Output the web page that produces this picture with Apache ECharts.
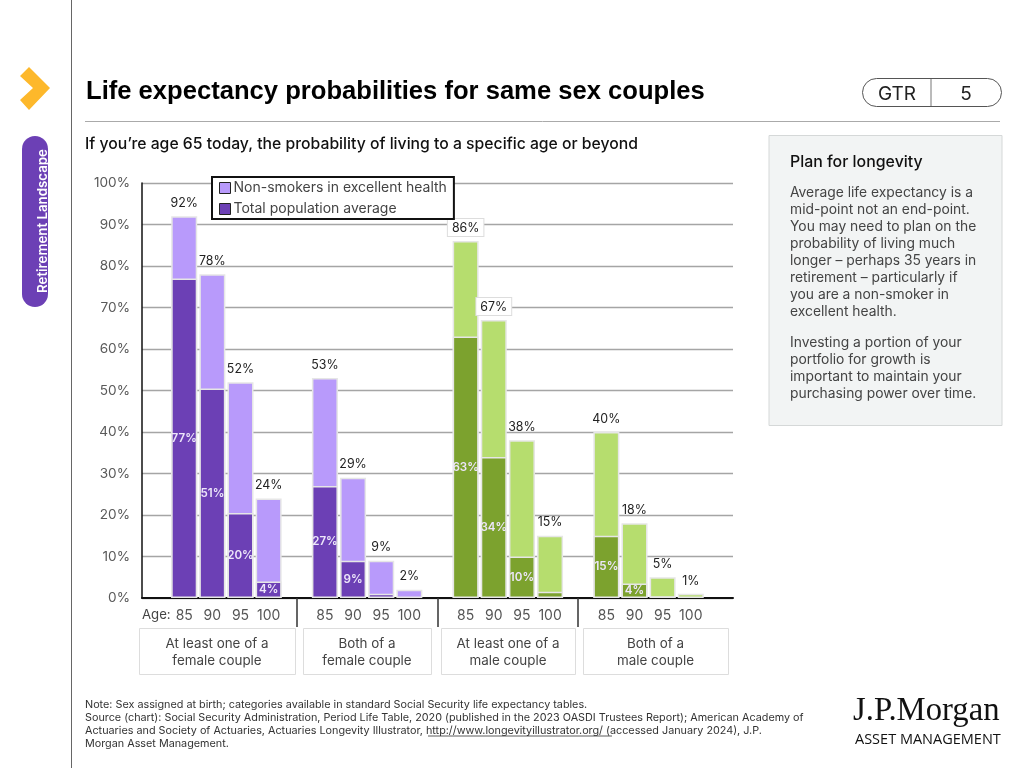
<!DOCTYPE html>
<html><head><meta charset="utf-8">
<style>html,body{margin:0;padding:0;background:#fff}#c{width:1024px;height:768px}</style>
<script src="https://cdn.jsdelivr.net/npm/echarts@6/dist/echarts.min.js"></script>
</head><body><div id="c"></div>
<script>
const ages = ['', '85','90','95','100', '', '85','90','95','100', '', '85','90','95','100', '', '85','90','95','100', ''];
const nonSmokers = [null,92,78,52,24,null,53,29,9,2,null,86,67,38,15,null,40,18,5,1,null];
const totalPopulation = [null,77,50.5,20.5,4,null,27,9,1,0,null,63,34,10,1.5,null,15,3.5,0.4,0,null];
const totalLabels = ['','77%','51%','20%','4%','','27%','9%','','','','63%','34%','10%','','','15%','4%','','',''];
const boxed = [11,12];
const greenFrom = 11;
const groupLabels = ['At least one of a\nfemale couple','Both of a\nfemale couple','At least one of a\nmale couple','Both of a\nmale couple'];
const sideHeading = 'Plan for longevity';
const sideP1 = ['Average life expectancy is a','mid-point not an end-point.','You may need to plan on the','probability of living much','longer – perhaps 35 years in','retirement – particularly if','you are a non-smoker in','excellent health.'];
const sideP2 = ['Investing a portion of your','portfolio for growth is','important to maintain your','purchasing power over time.'];
const notes = ['Note: Sex assigned at birth; categories available in standard Social Security life expectancy tables.',
'Source (chart): Social Security Administration, Period Life Table, 2020 (published in the 2023 OASDI Trustees Report); American Academy of',
'Actuaries and Society of Actuaries, Actuaries Longevity Illustrator, http://www.longevityillustrator.org/ (accessed January 2024), J.P.',
'Morgan Asset Management.'];

const C = {lp:'#B89AFB',dp:'#6C40B5',lg:'#B6DD6E',dg:'#7CA22E',edge:'#E6E6E6'};
const F = 'Inter, "Noto Sans", sans-serif';
const chart = echarts.init(document.getElementById('c'),null,{renderer:'canvas'});
const T=(x,y,text,o={})=>({type:'text',x,y,z:o.z||10,style:{text,fill:o.c||'#333',font:(o.w||400)+' '+(o.s||13)+'px '+(o.f||F),textAlign:o.a||'left',textVerticalAlign:'middle',textBaseline:'middle',lineHeight:o.lh}});
const gfx=[];
gfx.push({type:'line',shape:{x1:71.5,y1:0,x2:71.5,y2:768},style:{stroke:'#666',lineWidth:1}});
gfx.push({type:'polygon',shape:{points:[[29,67],[50,88],[29,110],[20,100],[33,88],[20,76]]},style:{fill:'#FDB82B'}});
gfx.push({type:'rect',shape:{x:22,y:136,width:26,height:171,r:13},style:{fill:C.dp}});
gfx.push({type:'text',x:36,y:221,rotation:Math.PI/2,style:{text:'Retirement Landscape',fill:'#fff',font:'600 13.3px '+F,textAlign:'center',textBaseline:'middle'}});
gfx.push(T(86,91.5,'Life expectancy probabilities for same sex couples',{s:25.6,w:700,c:'#000',f:'"Liberation Sans", Arial, sans-serif'}));
gfx.push({type:'line',shape:{x1:85,y1:121.5,x2:1000,y2:121.5},style:{stroke:'#aaa',lineWidth:1}});
gfx.push({type:'rect',shape:{x:862.5,y:78.5,width:139,height:28,r:14},style:{fill:'#fff',stroke:'#555',lineWidth:1}});
gfx.push({type:'line',shape:{x1:931,y1:79,x2:931,y2:106},style:{stroke:'#777',lineWidth:1}});
gfx.push(T(897,94.5,'GTR',{s:19,a:'center',c:'#222'}));
gfx.push(T(966,94,'5',{s:19,a:'center',c:'#222'}));
gfx.push(T(85,144,'If you’re age 65 today, the probability of living to a specific age or beyond',{s:15.75,w:500,c:'#111'}));
gfx.push({type:'rect',shape:{x:769,y:135.5,width:233,height:290},style:{fill:'#F2F4F4',stroke:'#D5D8D8',lineWidth:1}});
gfx.push(T(790,162,sideHeading,{s:15.9,w:500,c:'#111'}));
sideP1.forEach((l,i)=>gfx.push(T(790,193+i*17,l,{s:13.85,c:'#444'})));
sideP2.forEach((l,i)=>gfx.push(T(790,342.5+i*17,l,{s:13.85,c:'#444'})));
gfx.push(T(142,615.5,'Age:',{s:13.2,c:'#444'}));
const boxes=[[139,628,156,46],[303,628,128,46],[441,628,134,46],[583,628,145,46]];
boxes.forEach((b,i)=>{
  gfx.push({type:'rect',shape:{x:b[0]+.5,y:b[1]+.5,width:b[2],height:b[3]},style:{fill:'#fff',stroke:'#DDD',lineWidth:1}});
  groupLabels[i].split('\n').forEach((l,j)=>gfx.push(T(b[0]+b[2]/2,644+j*17,l,{s:13.4,a:'center',c:'#444'})));
});
[704.5,717.5,730.5,743.5].forEach((y,i)=>gfx.push(T(85,y,notes[i],{s:10.8,c:'#333'})));
gfx.push({type:'line',shape:{x1:428,y1:736,x2:612,y2:736},style:{stroke:'#333',lineWidth:.8}});
gfx.push(T(853,711,'J.P.Morgan',{s:32.7,c:'#111',f:'"Liberation Serif", serif'}));
gfx.push(T(855,739.5,'ASSET MANAGEMENT',{s:14.5,w:500,c:'#111',f:'"Open Sans", sans-serif'}));

chart.setOption({
  animation:false,
  grid:{left:142,top:183,width:591,height:415,containLabel:false},
  legend:{left:212,top:177,orient:'vertical',itemWidth:11,itemHeight:11,itemGap:7,padding:[4,7,3,7],
    backgroundColor:'#fff',borderColor:'#111',borderWidth:2,icon:'rect',z:20,
    textStyle:{fontFamily:F,fontSize:14,color:'#444',padding:[0,0,0,-2]},
    itemStyle:{borderColor:'#222',borderWidth:1},
    data:['Non-smokers in excellent health','Total population average']},
  xAxis:{type:'category',data:ages,boundaryGap:true,
    axisLine:{lineStyle:{color:'#111',width:2},onZero:true},
    axisTick:{show:true,alignWithLabel:true,length:29,lineStyle:{color:'#333',width:1.5},interval:(i)=>i===5||i===10||i===15},
    axisLabel:{interval:0,margin:11,fontFamily:F,fontSize:14,color:'#555'}},
  yAxis:{type:'value',min:0,max:100,interval:10,
    axisLine:{show:true,lineStyle:{color:'#111',width:1.5}},axisTick:{show:false},
    splitLine:{lineStyle:{color:'#A5A5A5',width:1.3}},
    axisLabel:{margin:12,fontFamily:F,fontSize:13.6,color:'#5A5A5A',formatter:v=>v+'%'}},
  series:[
    {name:'Non-smokers in excellent health',type:'bar',barWidth:26,barGap:'-100%',
     itemStyle:{color:C.lp,borderColor:C.edge,borderWidth:1.5},
     data:nonSmokers.map((v,i)=>({value:v,
       itemStyle:{color:i>=greenFrom?C.lg:C.lp},
       label:boxed.includes(i)?{backgroundColor:'#fff',borderColor:'#DDD',borderWidth:1,padding:[3,4,2,4],distance:5}:{}})),
     label:{show:true,position:'top',distance:7,fontFamily:F,fontSize:12.4,color:'#222',formatter:p=>p.value==null?'':p.value+'%'}},
    {name:'Total population average',type:'bar',barWidth:26,
     itemStyle:{color:C.dp,borderColor:C.edge,borderWidth:1.5},
     data:totalPopulation.map((v,i)=>({value:v,itemStyle:{color:i>=greenFrom?C.dg:C.dp,borderWidth:v===0?0:1.5}})),
     label:{show:true,position:'inside',fontFamily:F,fontSize:11.6,fontWeight:600,color:'#EDE6FA',formatter:p=>totalLabels[p.dataIndex]}}
  ],
  graphic:gfx
});
</script></body></html>
